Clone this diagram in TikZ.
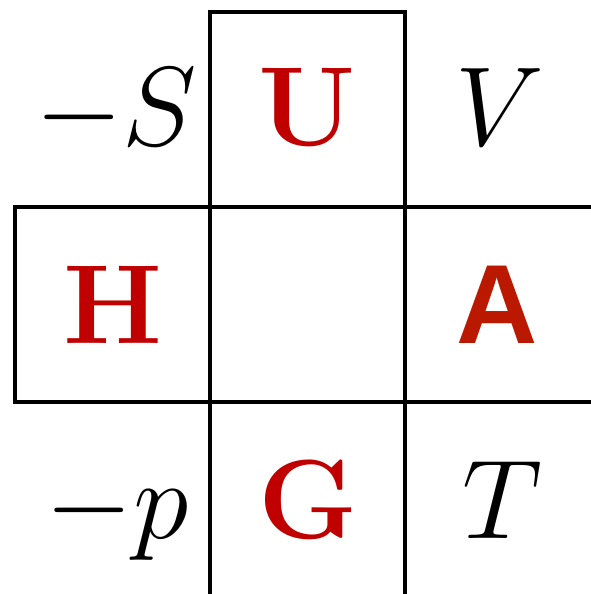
\documentclass[tikz,border=0pt]{standalone}
\usepackage{fontspec}
\newfontfamily\arialfont{Liberation Sans}
\definecolor{potred}{RGB}{192,0,0}
\definecolor{freered}{RGB}{187,24,0}
% math fonts stop at 24.88pt, so stretch them up to 32pt
\newcommand{\statesym}[1]{\scalebox{1.286}{$#1$}}
\tikzstyle{frame} = [
    line width=0.9pt,
    draw=black
]
\tikzstyle{statevar} = [
    inner sep=0pt,
    anchor=base,
    font=\fontsize{24.88}{30}\selectfont
]
\tikzstyle{potential} = [
    statevar,
    text=potred,
    font=\fontsize{32}{38}\selectfont\bfseries
]

\begin{document}
\begin{tikzpicture}[x=0.01cm, y=-0.01cm]

\useasboundingbox (0,0) rectangle (591,594);
\clip (0,0) rectangle (591,594);

\draw [frame] (210,12) rectangle (405,620);
\draw [frame] (15,207) rectangle (620,402);

\node (entropy) [statevar] at (116,145) {\statesym{-S}};
\node (energy) [potential] at (307,145) {U};
\node (volume) [statevar] at (500,145) {\statesym{V}};

\node (enthalpy) [potential] at (113,343) {H};
\node (helmholtz) [potential, text=freered, font=\fontsize{32}{38}\arialfont\bfseries] at (497,343) {A};

\node (pressure) [statevar] at (117,538) {\statesym{-p}};
\node (gibbs) [potential] at (308,538) {G};
\node (temp) [statevar] at (502,538) {\statesym{T}};

\end{tikzpicture}
\end{document}
